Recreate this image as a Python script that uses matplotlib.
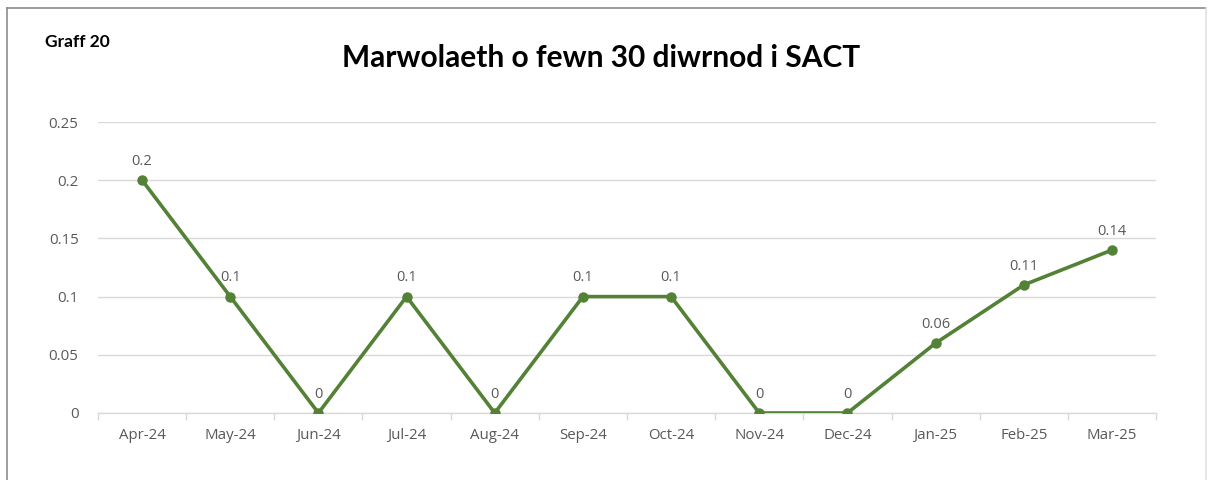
import matplotlib
matplotlib.use("Agg")
import matplotlib.pyplot as plt
from matplotlib.lines import Line2D
from matplotlib.ticker import FixedLocator, NullFormatter

months = ["Apr-24", "May-24", "Jun-24", "Jul-24", "Aug-24", "Sep-24",
          "Oct-24", "Nov-24", "Dec-24", "Jan-25", "Feb-25", "Mar-25"]
values = [0.2, 0.1, 0, 0.1, 0, 0.1, 0.1, 0, 0, 0.06, 0.11, 0.14]
labels = ["0.2", "0.1", "0", "0.1", "0", "0.1", "0.1", "0", "0", "0.06", "0.11", "0.14"]
yticks = [0, 0.05, 0.1, 0.15, 0.2, 0.25]
ytick_labels = ["0", "0.05", "0.1", "0.15", "0.2", "0.25"]

GREEN = "#538135"
GRID = "#d9d9d9"
TEXT = "#595959"

plt.rcParams["font.family"] = ["Open Sans", "DejaVu Sans"]

W, H = 1208, 480
fig = plt.figure(figsize=(W / 100, H / 100), dpi=100)
ax = fig.add_axes([98 / W, 1 - 413 / H, (1156 - 98) / W, (413 - 122) / H])

x = list(range(len(months)))
ax.plot(x, values, color=GREEN, lw=2.6, marker="o", ms=6.5, zorder=3,
        solid_capstyle="round")
for xi, v, lab in zip(x, values, labels):
    ax.annotate(lab, (xi, v), xytext=(0, 8), textcoords="offset points",
                ha="center", va="bottom", fontsize=10.5, color=TEXT)

ax.set_xlim(-0.5, len(months) - 0.5)
ax.set_ylim(0, 0.25)
ax.set_yticks(yticks)
ax.set_yticklabels(ytick_labels)
ax.set_xticks(x)
ax.set_xticklabels(months)
ax.xaxis.set_minor_locator(FixedLocator([i - 0.5 for i in range(len(months) + 1)]))
ax.xaxis.set_minor_formatter(NullFormatter())
ax.tick_params(axis="x", which="major", length=0, pad=11, labelsize=10.8, labelcolor=TEXT)
ax.tick_params(axis="x", which="minor", length=5, color=GRID, width=1)
ax.tick_params(axis="y", length=0, pad=14, labelsize=10.8, labelcolor=TEXT)
ax.grid(axis="y", color=GRID, lw=1)
ax.set_axisbelow(True)
for s in ["top", "right", "left"]:
    ax.spines[s].set_visible(False)
ax.spines["bottom"].set_color(GRID)
ax.spines["bottom"].set_linewidth(1)

fig.text(601 / W, 1 - 58 / H, "Marwolaeth o fewn 30 diwrnod i SACT",
         ha="center", va="center", fontsize=21.5, fontweight="bold",
         family=["Lato", "DejaVu Sans"], color="black")
fig.text(45 / W, 1 - 42 / H, "Graff 20", ha="left", va="center",
         fontsize=12.5, fontweight="bold", family=["Lato", "DejaVu Sans"],
         color="black")

# outer frame (left, top, right)
fc = "#8c8c8c"
fig.add_artist(Line2D([7 / W, 7 / W], [0, 1 - 8 / H], transform=fig.transFigure, color=fc, lw=1.2))
fig.add_artist(Line2D([7 / W, 1206 / W], [1 - 8 / H, 1 - 8 / H], transform=fig.transFigure, color=fc, lw=1.2))
fig.add_artist(Line2D([1206 / W, 1206 / W], [0, 1 - 8 / H], transform=fig.transFigure, color="#e0e0e0", lw=1.2))

fig.savefig("out.png", dpi=100)
